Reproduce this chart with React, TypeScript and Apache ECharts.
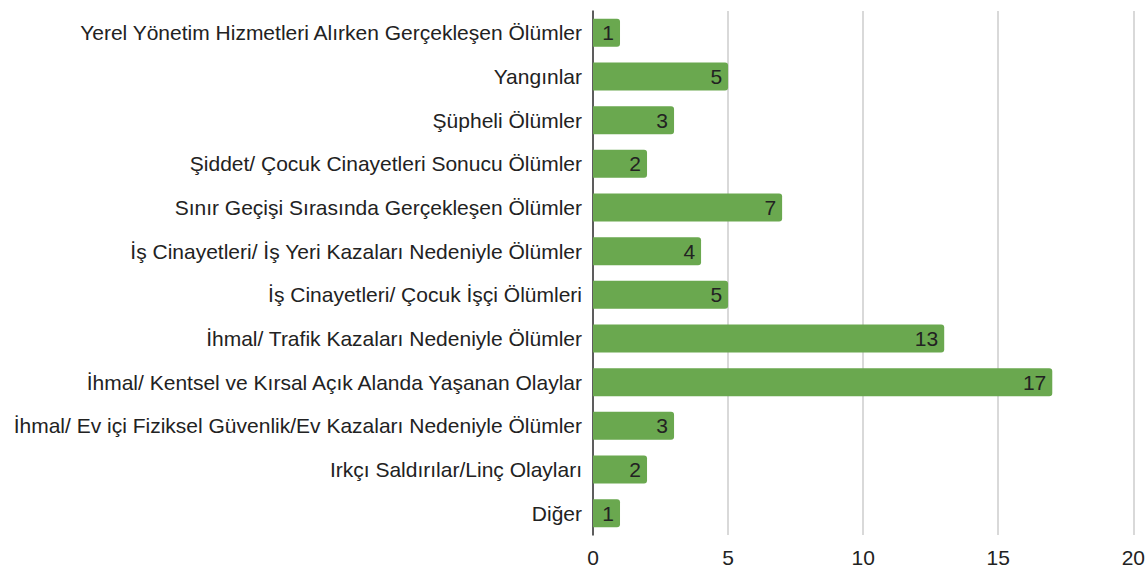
import React, { useEffect, useRef } from "react";
import * as echarts from "echarts";

const categories = [
  "Yerel Yönetim Hizmetleri Alırken Gerçekleşen Ölümler",
  "Yangınlar",
  "Şüpheli Ölümler",
  "Şiddet/ Çocuk Cinayetleri Sonucu Ölümler",
  "Sınır Geçişi Sırasında Gerçekleşen Ölümler",
  "İş Cinayetleri/ İş Yeri Kazaları Nedeniyle Ölümler",
  "İş Cinayetleri/ Çocuk İşçi Ölümleri",
  "İhmal/ Trafik Kazaları Nedeniyle Ölümler",
  "İhmal/ Kentsel ve Kırsal Açık Alanda Yaşanan Olaylar",
  "İhmal/ Ev içi Fiziksel Güvenlik/Ev Kazaları Nedeniyle Ölümler",
  "Irkçı Saldırılar/Linç Olayları",
  "Diğer",
];
const values = [1, 5, 3, 2, 7, 4, 5, 13, 17, 3, 2, 1];

export default function App() {
  const ref = useRef<HTMLDivElement>(null);
  useEffect(() => {
    if (!ref.current) return;
    const chart = echarts.init(ref.current, undefined, { renderer: "svg" });
    const font = "Arial, 'Liberation Sans', sans-serif";
    chart.setOption({
      animation: false,
      grid: { left: 593, right: 13, top: 11, bottom: 38, containLabel: false },
      xAxis: {
        type: "value",
        min: 0,
        max: 20,
        interval: 5,
        axisLine: { show: false },
        axisTick: { show: false },
        splitLine: { show: true, lineStyle: { color: "#cccccc", width: 1.5 } },
        axisLabel: { color: "#222", fontSize: 21, fontFamily: font, margin: 12 },
      },
      yAxis: {
        type: "category",
        data: categories,
        inverse: true,
        axisLine: { show: true, lineStyle: { color: "#333", width: 1.5 } },
        axisTick: { show: false },
        axisLabel: { color: "#222", fontSize: 21, fontFamily: font, margin: 11 },
      },
      series: [
        {
          type: "bar",
          data: values,
          barWidth: 28,
          itemStyle: { color: "#6aa84f", borderRadius: [0, 3, 3, 0] },
          label: {
            show: true,
            position: "insideRight",
            color: "#222",
            fontSize: 21,
            fontFamily: font,
            distance: 6,
          },
        },
      ],
    });
    return () => chart.dispose();
  }, []);
  return <div ref={ref} style={{ width: 1148, height: 573, position: "absolute", left: 0, top: 0 }} />;
}
